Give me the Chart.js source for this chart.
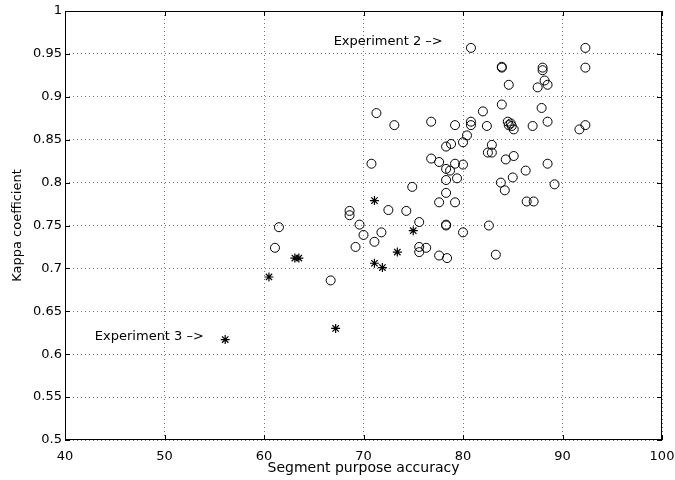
<html>
<head>
<style>
  body { margin: 0; background: #fff; }
  #wrap { width: 675px; height: 480px; }
</style>
<script src="https://cdn.jsdelivr.net/npm/chart.js"></script>
</head>
<body>
<div id="wrap"><canvas id="chart" width="675" height="480"></canvas></div>
<script>
// circles (o markers)
const circleX = [80.8, 92.3, 83.9, 83.9, 88.0, 88.0, 92.3, 84.6, 88.2, 87.5, 88.5, 83.9, 82.0, 87.9,
  71.3, 73.1, 76.8, 79.2, 80.8, 80.8, 82.4, 84.5, 84.9, 84.6, 85.1, 84.8, 87.0, 88.5, 91.7, 92.3,
  80.4, 80.0, 78.8, 78.3, 82.9, 82.5, 82.9, 70.8, 76.8, 77.6, 78.3, 78.7, 79.2, 80.0, 84.3, 85.1,
  86.3, 88.5, 78.3, 79.4, 83.8, 85.0, 89.2, 74.9, 84.2, 78.3, 77.6, 79.2, 86.4, 87.1, 72.5, 74.3,
  68.6, 68.6, 61.5, 69.6, 75.6, 78.3, 78.3, 82.6, 71.8, 80.0, 70.0, 71.1, 61.1, 69.2, 75.6, 75.6,
  76.3, 77.6, 78.4, 83.3, 66.7];
const circleY = [0.957, 0.957, 0.934, 0.935, 0.934, 0.931, 0.934, 0.914, 0.919, 0.911, 0.914, 0.891, 0.883, 0.887,
  0.881, 0.867, 0.871, 0.867, 0.871, 0.867, 0.866, 0.871, 0.866, 0.867, 0.862, 0.869, 0.866, 0.871, 0.862, 0.867,
  0.855, 0.847, 0.845, 0.842, 0.844, 0.835, 0.835, 0.822, 0.828, 0.824, 0.816, 0.814, 0.822, 0.821, 0.827, 0.831,
  0.814, 0.822, 0.803, 0.805, 0.800, 0.806, 0.798, 0.795, 0.791, 0.788, 0.777, 0.777, 0.778, 0.778, 0.768, 0.767,
  0.767, 0.762, 0.748, 0.751, 0.754, 0.750, 0.751, 0.750, 0.742, 0.742, 0.739, 0.731, 0.724, 0.725, 0.725, 0.719,
  0.724, 0.715, 0.712, 0.716, 0.686];

// stars (* markers)
const starX = [71.1, 75.0, 73.4, 63.1, 63.5, 71.1, 71.9, 60.5, 67.2, 56.1];
const starY = [0.779, 0.744, 0.719, 0.712, 0.712, 0.706, 0.701, 0.690, 0.630, 0.617];

const xTicks = [40, 50, 60, 70, 80, 90, 100];
const yTicks = [0.5, 0.55, 0.6, 0.65, 0.7, 0.75, 0.8, 0.85, 0.9, 0.95, 1];

const notes = [
  { text: 'Experiment 2 \u2013>', x: 67.0, y: 0.964 },
  { text: 'Experiment 3 \u2013>', x: 43.0, y: 0.621 }
];

function pts(xs, ys) {
  return xs.map((x, i) => ({ x: x, y: ys[i] }));
}

const FONT = '"DejaVu Sans", Verdana, sans-serif';

// matlab style frame with inward ticks, plus text notes
const framePlugin = {
  id: 'frame',
  afterDraw(chart) {
    const c = chart.ctx, a = chart.chartArea;
    const xs = chart.scales.x, ys = chart.scales.y;
    c.save();
    c.strokeStyle = '#000';
    c.lineWidth = 1;
    c.strokeRect(a.left + 0.5, a.top + 0.5, a.right - a.left - 1, a.bottom - a.top - 1);
    c.beginPath();
    xTicks.forEach(v => {
      const px = Math.round(xs.getPixelForValue(v)) + 0.5;
      c.moveTo(px, a.bottom); c.lineTo(px, a.bottom - 5);
      c.moveTo(px, a.top); c.lineTo(px, a.top + 5);
    });
    yTicks.forEach(v => {
      const py = Math.round(ys.getPixelForValue(v)) + 0.5;
      c.moveTo(a.left, py); c.lineTo(a.left + 5, py);
      c.moveTo(a.right, py); c.lineTo(a.right - 5, py);
    });
    c.stroke();
    c.fillStyle = '#000';
    c.font = '13px ' + FONT;
    c.textBaseline = 'middle';
    c.textAlign = 'left';
    notes.forEach(n => {
      c.fillText(n.text, xs.getPixelForValue(n.x), ys.getPixelForValue(n.y));
    });
    c.restore();
  }
};

new Chart(document.getElementById('chart'), {
  type: 'scatter',
  data: {
    datasets: [
      {
        label: 'o',
        data: pts(circleX, circleY),
        pointStyle: 'circle',
        pointRadius: 4.5,
        borderColor: '#000',
        backgroundColor: 'rgba(0,0,0,0)',
        borderWidth: 1
      },
      {
        label: '*',
        data: pts(starX, starY),
        pointStyle: 'star',
        pointRadius: 4.5,
        borderColor: '#000',
        backgroundColor: 'rgba(0,0,0,0)',
        borderWidth: 1.2
      }
    ]
  },
  options: {
    responsive: false,
    animation: false,
    layout: { padding: { left: 0, right: 13, top: 11, bottom: 0 } },
    plugins: {
      legend: { display: false },
      tooltip: { enabled: false }
    },
    scales: {
      x: {
        type: 'linear',
        min: 40, max: 100,
        afterBuildTicks: s => { s.ticks = xTicks.map(v => ({ value: v })); },
        afterFit: s => { s.height = 40; s.paddingLeft = 0; s.paddingRight = 0; },
        grid: { color: '#777', drawTicks: false },
        border: { display: false, dash: [1, 3] },
        ticks: { color: '#000', padding: 9, maxRotation: 0, font: { family: FONT, size: 13 } },
        title: { display: true, text: 'Segment purpose accuracy', color: '#000',
                 padding: { top: 0, bottom: 3 }, font: { family: FONT, size: 14 } }
      },
      y: {
        type: 'linear',
        min: 0.5, max: 1,
        afterBuildTicks: s => { s.ticks = yTicks.map(v => ({ value: v })); },
        afterFit: s => { s.width = 65; s.paddingTop = 0; s.paddingBottom = 0; },
        grid: { color: '#777', drawTicks: false },
        border: { display: false, dash: [1, 3] },
        ticks: { color: '#000', padding: 3, font: { family: FONT, size: 13 },
                 callback: v => String(Number(v.toFixed(2))) },
        title: { display: true, text: 'Kappa coefficient', color: '#000',
                 padding: { top: 10, bottom: 0 }, font: { family: FONT, size: 13 } }
      }
    }
  },
  plugins: [framePlugin]
});
</script>
</body>
</html>
